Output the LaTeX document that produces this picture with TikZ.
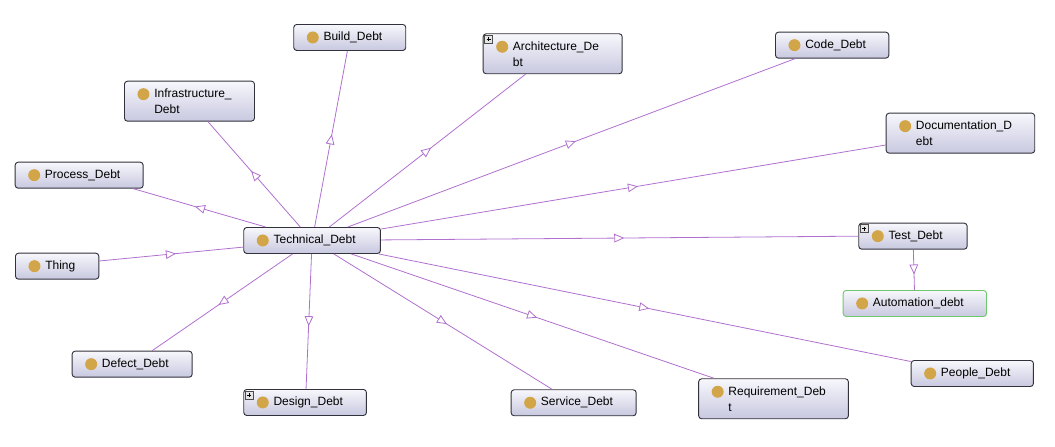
\documentclass[tikz,border=0pt]{standalone}
\usepackage{fontspec}
\setmainfont{Liberation Sans}
\usetikzlibrary{arrows.meta,decorations.markings}

\definecolor{boxtop}{RGB}{247,247,252}
\definecolor{boxbot}{RGB}{200,200,224}
\definecolor{boxline}{RGB}{50,50,60}
\definecolor{dotgold}{RGB}{210,166,72}
\definecolor{isaline}{RGB}{176,112,206}
\definecolor{defgreen}{RGB}{110,200,110}

\tikzset{
  cls/.style={draw=boxline, line width=0.7pt, rounded corners=2.25pt,
    top color=boxtop, bottom color=boxbot, anchor=north west,
    inner sep=0pt, minimum height=19.5pt,
    path picture={\fill[dotgold] ([xshift=14.25pt,yshift=-9.75pt]path picture bounding box.north west) circle (4.5pt);}},
  clsname/.style={anchor=west, xshift=22.5pt, inner sep=0pt, align=left,
    font=\fontsize{9pt}{12pt}\selectfont},
  plus/.style={draw=black!70, fill=black!10, line width=0.4pt},
  isa/.style={color=isaline, line width=0.6pt,
    decoration={markings, mark=at position 0.5 with {\arrow[xshift=3.5pt]{Triangle[length=7.5pt,width=6.5pt,fill=white]}}},
    postaction={decorate}},
}

\begin{document}
\begin{tikzpicture}[x=0.75pt,y=-0.75pt]
    \useasboundingbox (0,0) rectangle (1055,446);

    \node[cls, minimum width=84pt, label={[clsname]west:Build\_Debt}] (build) at (293.3,24) {};
    \node[cls, minimum width=104.25pt, minimum height=30pt, label={[clsname]west:{Architecture\_De\\bt}}] (arch) at (482.7,33.3) {};
    \node[cls, minimum width=85pt, label={[clsname]west:Code\_Debt}] (code) at (775,31.7) {};
    \node[cls, minimum width=97.5pt, minimum height=30pt, label={[clsname]west:{Infrastructure\_\\Debt}}] (infra) at (124,80.7) {};
    \node[cls, minimum width=111.4pt, minimum height=30pt, label={[clsname]west:{Documentation\_D\\ebt}}] (doc) at (885.7,112.7) {};
    \node[cls, minimum width=96pt, label={[clsname]west:Process\_Debt}] (process) at (14.7,161.7) {};
    \node[cls, minimum width=102.5pt, label={[clsname]west:Technical\_Debt}] (tech) at (243.3,227) {};
    \node[cls, minimum width=62.5pt, label={[clsname]west:Thing}] (thing) at (15,252.7) {};
    \node[cls, minimum width=81.3pt, label={[clsname]west:Test\_Debt}] (test) at (858.3,222.7) {};
    \node[cls, draw=defgreen, minimum width=107.5pt, label={[clsname]west:Automation\_debt}] (auto) at (842.7,290) {};
    \node[cls, minimum width=90pt, label={[clsname]west:Defect\_Debt}] (defect) at (71.7,350.7) {};
    \node[cls, minimum width=92pt, label={[clsname]west:Design\_Debt}] (design) at (243.3,389) {};
    \node[cls, minimum width=93.75pt, label={[clsname]west:Service\_Debt}] (service) at (510.7,389.3) {};
    \node[cls, minimum width=112.3pt, minimum height=30pt, label={[clsname]west:{Requirement\_Deb\\t}}] (req) at (698.2,378.3) {};
    \node[cls, minimum width=91.7pt, label={[clsname]west:People\_Debt}] (people) at (910.7,360) {};

    % expand boxes
    \foreach \c in {arch,test,design}
    {
        \draw[plus] ([shift={(2,2)}]\c.north west) rectangle +(8,8);
        \draw[line width=0.6pt] ([shift={(4,6)}]\c.north west) -- +(4,0)
            ([shift={(6,4)}]\c.north west) -- +(0,4);
    }

    % subclass links
    \foreach \c/\a in {build/-100, arch/-143, code/-160, doc/-171, test/180, people/169,
                       req/161, service/148, design/86, defect/34, process/-14, infra/-48}
    {
        \draw[isa] (tech) -- (\c.\a);
    }
    \draw[isa] (thing.7) -- (tech);
    \draw[isa] (test) -- (auto);
\end{tikzpicture}
\end{document}
